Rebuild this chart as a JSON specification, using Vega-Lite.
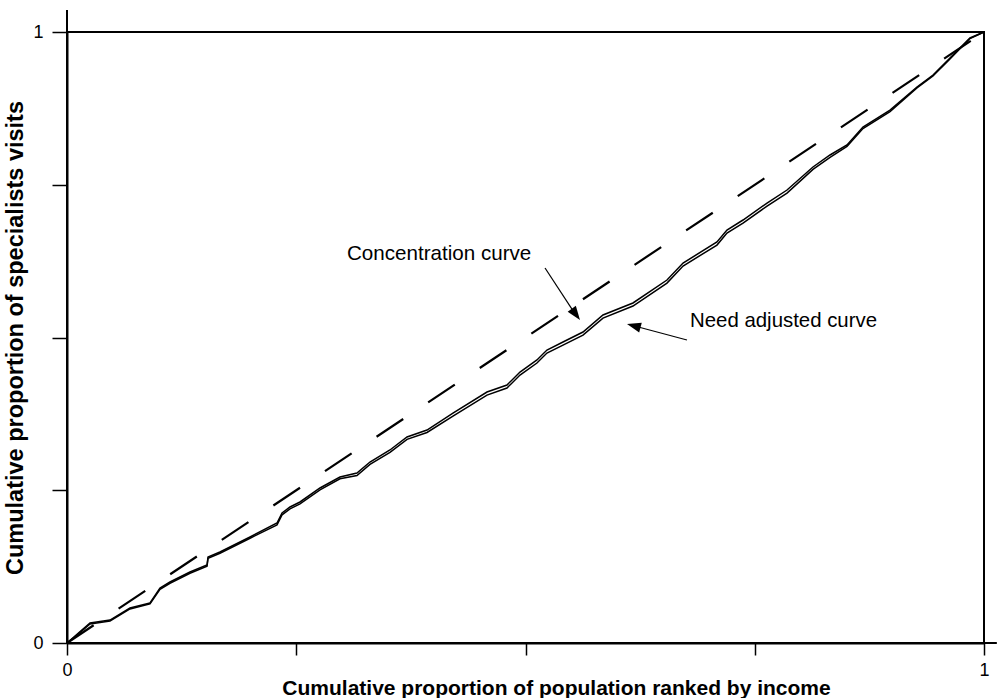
{
  "$schema": "https://vega.github.io/schema/vega-lite/v6.json",
  "width": 917,
  "height": 611,
  "autosize": {"type": "none"},
  "padding": {"left": 67, "top": 32, "right": 13, "bottom": 55},
  "background": "white",
  "config": {
    "font": "Liberation Sans",
    "view": {"stroke": "black", "strokeWidth": 2},
    "axis": {
      "grid": false,
      "domainColor": "black",
      "domainWidth": 2,
      "tickColor": "black",
      "tickWidth": 1.5,
      "labelColor": "black",
      "labelFont": "Liberation Sans",
      "labelFontSize": 18,
      "labelFlush": false,
      "titleColor": "black",
      "titleFont": "Liberation Sans",
      "titleFontWeight": "bold"
    }
  },
  "datasets": {
    "curves": [
      {"p": 0, "share": 0, "curve": "Concentration curve"},
      {"p": 0.0087, "share": 0.0115, "curve": "Concentration curve"},
      {"p": 0.0251, "share": 0.0327, "curve": "Concentration curve"},
      {"p": 0.0469, "share": 0.0376, "curve": "Concentration curve"},
      {"p": 0.0687, "share": 0.0573, "curve": "Concentration curve"},
      {"p": 0.0905, "share": 0.0655, "curve": "Concentration curve"},
      {"p": 0.1014, "share": 0.09, "curve": "Concentration curve"},
      {"p": 0.1123, "share": 0.0998, "curve": "Concentration curve"},
      {"p": 0.1341, "share": 0.1162, "curve": "Concentration curve"},
      {"p": 0.1527, "share": 0.1277, "curve": "Concentration curve"},
      {"p": 0.1538, "share": 0.1408, "curve": "Concentration curve"},
      {"p": 0.1668, "share": 0.1489, "curve": "Concentration curve"},
      {"p": 0.1996, "share": 0.1735, "curve": "Concentration curve"},
      {"p": 0.229, "share": 0.1964, "curve": "Concentration curve"},
      {"p": 0.2345, "share": 0.2128, "curve": "Concentration curve"},
      {"p": 0.2432, "share": 0.2226, "curve": "Concentration curve"},
      {"p": 0.2541, "share": 0.2308, "curve": "Concentration curve"},
      {"p": 0.2759, "share": 0.2537, "curve": "Concentration curve"},
      {"p": 0.2977, "share": 0.2717, "curve": "Concentration curve"},
      {"p": 0.3162, "share": 0.2782, "curve": "Concentration curve"},
      {"p": 0.3304, "share": 0.2962, "curve": "Concentration curve"},
      {"p": 0.3522, "share": 0.3159, "curve": "Concentration curve"},
      {"p": 0.3708, "share": 0.3372, "curve": "Concentration curve"},
      {"p": 0.3926, "share": 0.3486, "curve": "Concentration curve"},
      {"p": 0.4209, "share": 0.3764, "curve": "Concentration curve"},
      {"p": 0.458, "share": 0.4108, "curve": "Concentration curve"},
      {"p": 0.4798, "share": 0.4223, "curve": "Concentration curve"},
      {"p": 0.494, "share": 0.4435, "curve": "Concentration curve"},
      {"p": 0.5125, "share": 0.4632, "curve": "Concentration curve"},
      {"p": 0.5234, "share": 0.4795, "curve": "Concentration curve"},
      {"p": 0.5409, "share": 0.4926, "curve": "Concentration curve"},
      {"p": 0.5627, "share": 0.509, "curve": "Concentration curve"},
      {"p": 0.5845, "share": 0.5368, "curve": "Concentration curve"},
      {"p": 0.6172, "share": 0.5565, "curve": "Concentration curve"},
      {"p": 0.6543, "share": 0.5941, "curve": "Concentration curve"},
      {"p": 0.6718, "share": 0.6219, "curve": "Concentration curve"},
      {"p": 0.7088, "share": 0.6563, "curve": "Concentration curve"},
      {"p": 0.7197, "share": 0.6759, "curve": "Concentration curve"},
      {"p": 0.7372, "share": 0.6923, "curve": "Concentration curve"},
      {"p": 0.7634, "share": 0.7201, "curve": "Concentration curve"},
      {"p": 0.7852, "share": 0.7414, "curve": "Concentration curve"},
      {"p": 0.8135, "share": 0.7791, "curve": "Concentration curve"},
      {"p": 0.8321, "share": 0.7987, "curve": "Concentration curve"},
      {"p": 0.8506, "share": 0.8151, "curve": "Concentration curve"},
      {"p": 0.868, "share": 0.8445, "curve": "Concentration curve"},
      {"p": 0.8975, "share": 0.8723, "curve": "Concentration curve"},
      {"p": 0.9269, "share": 0.91, "curve": "Concentration curve"},
      {"p": 0.9444, "share": 0.9296, "curve": "Concentration curve"},
      {"p": 0.9629, "share": 0.9574, "curve": "Concentration curve"},
      {"p": 0.9847, "share": 0.9902, "curve": "Concentration curve"},
      {"p": 1, "share": 1, "curve": "Concentration curve"},
      {"p": 0, "share": 0, "curve": "Need adjusted curve"},
      {"p": 0.0087, "share": 0.01, "curve": "Need adjusted curve"},
      {"p": 0.0251, "share": 0.0312, "curve": "Need adjusted curve"},
      {"p": 0.0469, "share": 0.0361, "curve": "Need adjusted curve"},
      {"p": 0.0687, "share": 0.0558, "curve": "Need adjusted curve"},
      {"p": 0.0905, "share": 0.064, "curve": "Need adjusted curve"},
      {"p": 0.1014, "share": 0.088, "curve": "Need adjusted curve"},
      {"p": 0.1123, "share": 0.0978, "curve": "Need adjusted curve"},
      {"p": 0.1341, "share": 0.1142, "curve": "Need adjusted curve"},
      {"p": 0.1527, "share": 0.1257, "curve": "Need adjusted curve"},
      {"p": 0.1538, "share": 0.1388, "curve": "Need adjusted curve"},
      {"p": 0.1668, "share": 0.1469, "curve": "Need adjusted curve"},
      {"p": 0.1996, "share": 0.1715, "curve": "Need adjusted curve"},
      {"p": 0.229, "share": 0.1934, "curve": "Need adjusted curve"},
      {"p": 0.2345, "share": 0.2098, "curve": "Need adjusted curve"},
      {"p": 0.2432, "share": 0.2196, "curve": "Need adjusted curve"},
      {"p": 0.2541, "share": 0.2278, "curve": "Need adjusted curve"},
      {"p": 0.2759, "share": 0.2507, "curve": "Need adjusted curve"},
      {"p": 0.2977, "share": 0.2687, "curve": "Need adjusted curve"},
      {"p": 0.3162, "share": 0.2742, "curve": "Need adjusted curve"},
      {"p": 0.3304, "share": 0.2922, "curve": "Need adjusted curve"},
      {"p": 0.3522, "share": 0.3119, "curve": "Need adjusted curve"},
      {"p": 0.3708, "share": 0.3332, "curve": "Need adjusted curve"},
      {"p": 0.3926, "share": 0.3446, "curve": "Need adjusted curve"},
      {"p": 0.4209, "share": 0.3714, "curve": "Need adjusted curve"},
      {"p": 0.458, "share": 0.4058, "curve": "Need adjusted curve"},
      {"p": 0.4798, "share": 0.4173, "curve": "Need adjusted curve"},
      {"p": 0.494, "share": 0.4385, "curve": "Need adjusted curve"},
      {"p": 0.5125, "share": 0.4582, "curve": "Need adjusted curve"},
      {"p": 0.5234, "share": 0.4745, "curve": "Need adjusted curve"},
      {"p": 0.5409, "share": 0.4876, "curve": "Need adjusted curve"},
      {"p": 0.5627, "share": 0.504, "curve": "Need adjusted curve"},
      {"p": 0.5845, "share": 0.5318, "curve": "Need adjusted curve"},
      {"p": 0.6172, "share": 0.5515, "curve": "Need adjusted curve"},
      {"p": 0.6543, "share": 0.5891, "curve": "Need adjusted curve"},
      {"p": 0.6718, "share": 0.6169, "curve": "Need adjusted curve"},
      {"p": 0.7088, "share": 0.6513, "curve": "Need adjusted curve"},
      {"p": 0.7197, "share": 0.6709, "curve": "Need adjusted curve"},
      {"p": 0.7372, "share": 0.6873, "curve": "Need adjusted curve"},
      {"p": 0.7634, "share": 0.7151, "curve": "Need adjusted curve"},
      {"p": 0.7852, "share": 0.7364, "curve": "Need adjusted curve"},
      {"p": 0.8135, "share": 0.7751, "curve": "Need adjusted curve"},
      {"p": 0.8321, "share": 0.7947, "curve": "Need adjusted curve"},
      {"p": 0.8506, "share": 0.8126, "curve": "Need adjusted curve"},
      {"p": 0.868, "share": 0.842, "curve": "Need adjusted curve"},
      {"p": 0.8975, "share": 0.8698, "curve": "Need adjusted curve"},
      {"p": 0.9269, "share": 0.9085, "curve": "Need adjusted curve"},
      {"p": 0.9444, "share": 0.9281, "curve": "Need adjusted curve"},
      {"p": 0.9629, "share": 0.9559, "curve": "Need adjusted curve"},
      {"p": 0.9847, "share": 0.9892, "curve": "Need adjusted curve"},
      {"p": 1, "share": 1, "curve": "Need adjusted curve"}
    ],
    "equality": [
      {"p": 0, "share": 0},
      {"p": 1, "share": 1}
    ],
    "anchor": [{}]
  },
  "layer": [
    {
      "data": {"name": "equality"},
      "mark": {"type": "line", "color": "black", "strokeWidth": 2.2, "strokeDash": [32, 30], "strokeCap": "butt"},
      "encoding": {
        "x": {
          "field": "p", "type": "quantitative",
          "scale": {"domain": [0, 1], "nice": false},
          "axis": {
            "values": [0, 0.25, 0.5, 0.75, 1],
            "labelExpr": "datum.value == 0 ? '0' : datum.value == 1 ? '1' : ''",
            "tickSize": 12,
            "labelPadding": 6,
            "title": "Cumulative proportion of population ranked by income",
            "titleFontSize": 21,
            "titleX": 489,
            "titleY": 51,
            "titleAlign": "center",
            "titleBaseline": "alphabetic"
          }
        },
        "y": {
          "field": "share", "type": "quantitative",
          "scale": {"domain": [0, 1], "nice": false},
          "axis": {
            "values": [0, 0.25, 0.5, 0.75, 1],
            "labelExpr": "datum.value == 0 ? '0' : datum.value == 1 ? '1' : ''",
            "tickSize": 15,
            "labelPadding": 9,
            "title": "Cumulative proportion of specialists visits",
            "titleFontSize": 23.5,
            "titleX": -45,
            "titleBaseline": "alphabetic"
          }
        }
      }
    },
    {
      "data": {"name": "curves"},
      "mark": {"type": "line", "color": "black", "strokeWidth": 1.5, "interpolate": "linear"},
      "encoding": {
        "x": {"field": "p", "type": "quantitative", "scale": {"domain": [0, 1], "nice": false}},
        "y": {"field": "share", "type": "quantitative", "scale": {"domain": [0, 1], "nice": false}},
        "detail": {"field": "curve", "type": "nominal"}
      }
    },
    {
      "data": {"name": "anchor"},
      "mark": {"type": "rule", "color": "black", "strokeWidth": 2, "clip": false},
      "encoding": {
        "x": {"datum": 0, "type": "quantitative", "scale": {"domain": [0, 1], "nice": false}},
        "y": {"datum": 0.98, "type": "quantitative", "scale": {"domain": [0, 1], "nice": false}},
        "y2": {"datum": 1.036}
      }
    },
    {
      "data": {"name": "anchor"},
      "mark": {"type": "rule", "color": "black", "strokeWidth": 2, "clip": false},
      "encoding": {
        "x": {"datum": 0.98, "type": "quantitative", "scale": {"domain": [0, 1], "nice": false}},
        "x2": {"datum": 1.014},
        "y": {"datum": 0, "type": "quantitative", "scale": {"domain": [0, 1], "nice": false}}
      }
    },
    {
      "data": {"name": "anchor"},
      "mark": {"type": "text", "align": "left", "baseline": "alphabetic", "fontSize": 20.6, "font": "Liberation Sans", "color": "black"},
      "encoding": {
        "x": {"datum": 0.3053, "type": "quantitative", "scale": {"domain": [0, 1], "nice": false}},
        "y": {"datum": 0.6268, "type": "quantitative", "scale": {"domain": [0, 1], "nice": false}},
        "text": {"value": "Concentration curve"}
      }
    },
    {
      "data": {"name": "anchor"},
      "mark": {"type": "text", "align": "left", "baseline": "alphabetic", "fontSize": 20.4, "font": "Liberation Sans", "color": "black"},
      "encoding": {
        "x": {"datum": 0.6794, "type": "quantitative", "scale": {"domain": [0, 1], "nice": false}},
        "y": {"datum": 0.5172, "type": "quantitative", "scale": {"domain": [0, 1], "nice": false}},
        "text": {"value": "Need adjusted curve"}
      }
    },
    {
      "data": {"name": "anchor"},
      "mark": {"type": "rule", "color": "black", "strokeWidth": 1.2},
      "encoding": {
        "x": {"datum": 0.5213, "type": "quantitative", "scale": {"domain": [0, 1], "nice": false}},
        "y": {"datum": 0.6137, "type": "quantitative", "scale": {"domain": [0, 1], "nice": false}},
        "x2": {"datum": 0.553},
        "y2": {"datum": 0.541}
      }
    },
    {
      "data": {"name": "anchor"},
      "mark": {"type": "point", "shape": "M0,0L-0.4,1.1L0.4,1.1Z", "filled": true, "color": "black", "opacity": 1, "size": 640, "angle": 143.8},
      "encoding": {
        "x": {"datum": 0.5594, "type": "quantitative", "scale": {"domain": [0, 1], "nice": false}},
        "y": {"datum": 0.5286, "type": "quantitative", "scale": {"domain": [0, 1], "nice": false}}
      }
    },
    {
      "data": {"name": "anchor"},
      "mark": {"type": "rule", "color": "black", "strokeWidth": 1.2},
      "encoding": {
        "x": {"datum": 0.6761, "type": "quantitative", "scale": {"domain": [0, 1], "nice": false}},
        "y": {"datum": 0.4959, "type": "quantitative", "scale": {"domain": [0, 1], "nice": false}},
        "x2": {"datum": 0.621},
        "y2": {"datum": 0.518}
      }
    },
    {
      "data": {"name": "anchor"},
      "mark": {"type": "point", "shape": "M0,0L-0.4,1.1L0.4,1.1Z", "filled": true, "color": "black", "opacity": 1, "size": 640, "angle": 284.7},
      "encoding": {
        "x": {"datum": 0.6107, "type": "quantitative", "scale": {"domain": [0, 1], "nice": false}},
        "y": {"datum": 0.5221, "type": "quantitative", "scale": {"domain": [0, 1], "nice": false}}
      }
    }
  ]
}
